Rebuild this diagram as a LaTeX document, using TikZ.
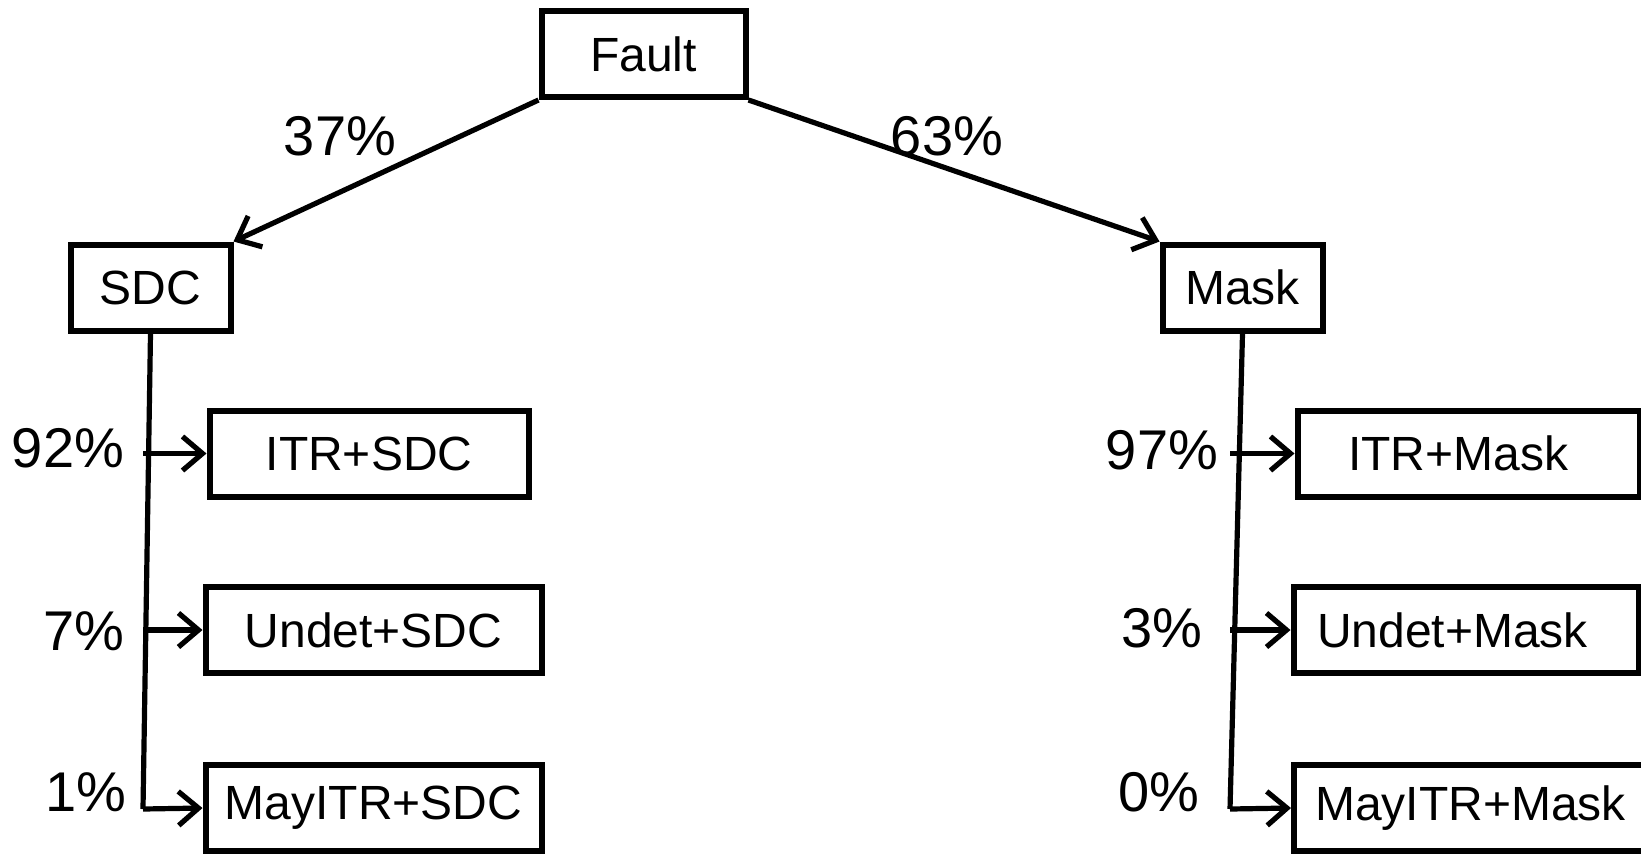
\documentclass[tikz,border=0pt]{standalone}
\usepackage{fontspec}
\setmainfont{Liberation Sans}
\usetikzlibrary{arrows.meta}

\begin{document}
\begin{tikzpicture}[x=0.5pt,y=-0.5pt,>={Straight Barb[length=10pt,width=17pt]},
  font=\fontsize{24}{28}\selectfont,
  nd/.style={draw,line width=3pt,minimum height=43pt,inner sep=0pt},
  pc/.style={font=\fontsize{28}{32}\selectfont},
  ln/.style={line width=2.6pt}]
  \useasboundingbox (0,0) rectangle (1641,853);
  \node[nd,minimum width=102pt] (fault) at (643.5,54) {Fault};
  \node[nd,minimum width=80pt] (sdc) at (150.5,287.5) {SDC};
  \node[nd,minimum width=80pt] (mask) at (1242.5,287.5) {Mask};
  \node[nd,minimum width=159.5pt] (itrsdc) at (369,453.5) {ITR+SDC};
  \node[nd,minimum width=168pt] (undsdc) at (373.5,630) {Undet+SDC};
  \node[nd,minimum width=168pt] (maysdc) at (373.5,808) {MayITR+SDC};
  \node[nd,minimum width=171pt] (itrmask) at (1468.5,453.5) {ITR+Mask\kern10.5pt};
  \node[nd,minimum width=172.5pt] (undmask) at (1466,630) {Undet+Mask\kern13.5pt};
  \node[nd,minimum width=176.5pt] (maymask) at (1470.5,808) {MayITR+Mask};
  \coordinate (sdcend) at (143,809);
  \coordinate (maskend) at (1230,809);
  \draw[ln,->] (fault.south west) -- (sdc.north east);
  \draw[ln,->] (fault.south east) -- (mask.north west);
  \draw[ln] (sdc.south) -- (sdcend);
  \draw[ln,->] (itrsdc.west -| sdcend) -- (itrsdc.west);
  \draw[ln,->] (undsdc.west -| sdcend) -- (undsdc.west);
  \draw[ln,->] (sdcend) -- (maysdc.west);
  \draw[ln] (mask.south) -- (maskend);
  \draw[ln,->] (itrmask.west -| maskend) -- (itrmask.west);
  \draw[ln,->] (undmask.west -| maskend) -- (undmask.west);
  \draw[ln,->] (maskend) -- (maymask.west);
  \node[pc] (p37) at (340,136) {37\%};
  \node[pc] (p63) at (947,136) {63\%};
  \node[pc] (p92) at (68,448) {92\%};
  \node[pc] (p7) at (84,631) {7\%};
  \node[pc] (p1) at (86,792) {1\%};
  \node[pc] (p97) at (1162,450) {97\%};
  \node[pc] (p3) at (1162,628) {3\%};
  \node[pc] (p0) at (1159,792) {0\%};
\end{tikzpicture}
\end{document}
